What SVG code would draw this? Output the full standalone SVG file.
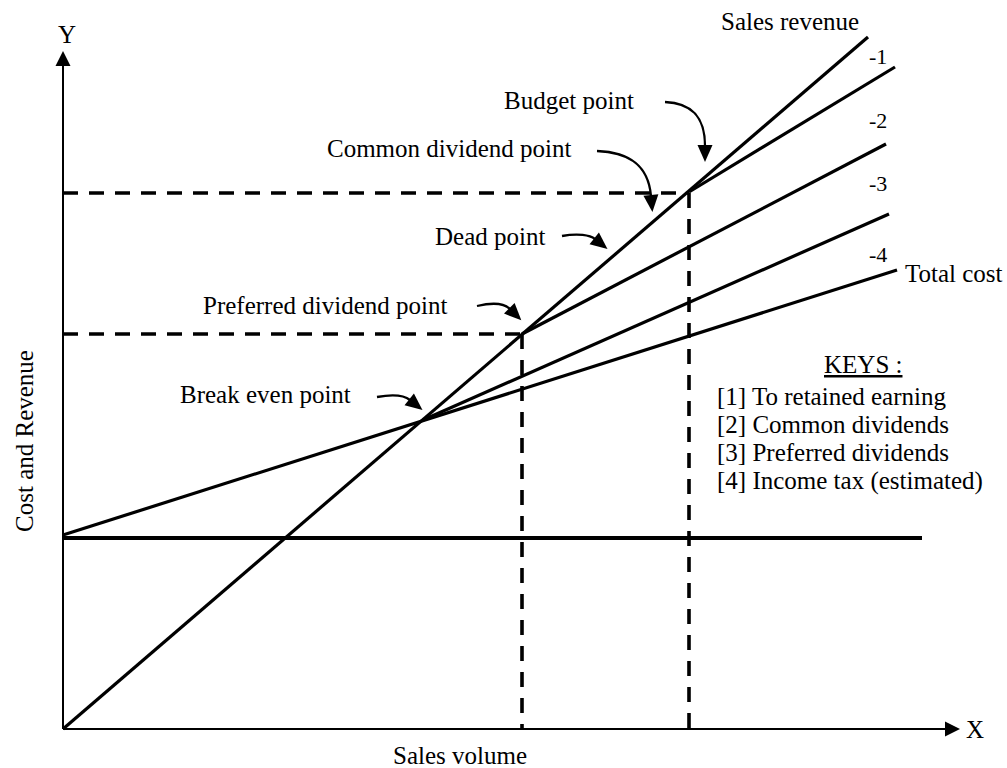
<svg xmlns="http://www.w3.org/2000/svg" width="1007" height="768" viewBox="0 0 1007 768">
<style>
text{font-family:"Liberation Serif","Times New Roman",serif;font-size:25px;fill:#000}
.sm{font-size:22px}
.ax{stroke:#000;stroke-width:2;fill:none}
.ln{stroke:#000;stroke-width:3.2;fill:none;stroke-linecap:butt}
.fx{stroke:#000;stroke-width:3.8;fill:none}
.ds{stroke:#000;stroke-width:3.6;fill:none;stroke-dasharray:15 11}
.ar{stroke:#000;stroke-width:2.3;fill:none;marker-end:url(#ah)}
</style>
<defs>
<marker id="ah" markerUnits="userSpaceOnUse" markerWidth="18" markerHeight="16" refX="1" refY="7.5" orient="auto" overflow="visible">
<path d="M0,0 L17,7.5 L0,15 Z" fill="#000"/>
</marker>
<marker id="axh" markerUnits="userSpaceOnUse" markerWidth="16" markerHeight="16" refX="1" refY="7.5" orient="auto" overflow="visible">
<path d="M0,0 L15,7.5 L0,15 Z" fill="#000"/>
</marker>
</defs>
<rect width="1007" height="768" fill="#fff"/>
<g id="axes">
<line class="ax" x1="63" y1="729" x2="63" y2="65" marker-end="url(#axh)"/>
<line class="ax" x1="63" y1="729" x2="946" y2="729" marker-end="url(#axh)"/>
<text x="58" y="43">Y</text>
<text x="966" y="738">X</text>
<text x="393" y="764">Sales volume</text>
<text transform="translate(33,441) rotate(-90)" text-anchor="middle">Cost and Revenue</text>
</g>
<g id="guides">
<line class="ds" x1="63" y1="193" x2="689" y2="193"/>
<line class="ds" x1="63" y1="334" x2="522" y2="334"/>
<line class="ds" x1="522" y1="334" x2="522" y2="729" stroke-width="3"/>
<line class="ds" x1="689" y1="193" x2="689" y2="729" stroke-width="3"/>
</g>
<g id="fixed-cost"><line class="fx" x1="63" y1="538" x2="922" y2="538"/></g>
<g id="total-cost"><line class="ln" x1="63" y1="535" x2="897" y2="270"/><text x="905" y="282">Total cost</text></g>
<g id="sales-revenue"><line class="ln" x1="63" y1="729" x2="868" y2="37"/><text x="721" y="30">Sales revenue</text></g>
<g id="line-income-tax"><line class="ln" x1="423" y1="420" x2="889" y2="214"/></g>
<g id="line-preferred"><line class="ln" x1="522" y1="334" x2="886" y2="144"/></g>
<g id="line-common"><line class="ln" x1="689" y1="192" x2="895" y2="67"/></g>
<g id="region-labels">
<text class="sm" x="869" y="64">-1</text>
<text class="sm" x="869" y="128">-2</text>
<text class="sm" x="869" y="191">-3</text>
<text class="sm" x="869" y="262">-4</text>
</g>
<g id="point-labels">
<text x="504" y="109">Budget point</text>
<text x="327" y="157">Common dividend point</text>
<text x="435" y="245">Dead point</text>
<text x="203" y="314">Preferred dividend point</text>
<text x="180" y="403">Break even point</text>
</g>
<g id="keys">
<text x="824" y="373" text-decoration="underline">KEYS :</text>
<text x="717" y="405">[1] To retained earning</text>
<text x="717" y="433">[2] Common dividends</text>
<text x="717" y="461">[3] Preferred dividends</text>
<text x="717" y="489">[4] Income tax (estimated)</text>
</g>
<g id="connectors">
<path class="ar" d="M665,102 C690,103 705,115 705,146"/>
<path class="ar" d="M597,151 C625,152 648,162 651,196"/>
<path class="ar" d="M562,236 C578,233 590,235 595,239"/>
<path class="ar" d="M477,306 C494,302 505,304 510,309"/>
<path class="ar" d="M377,397 C394,394 405,396 410,400"/>
</g>
</svg>
